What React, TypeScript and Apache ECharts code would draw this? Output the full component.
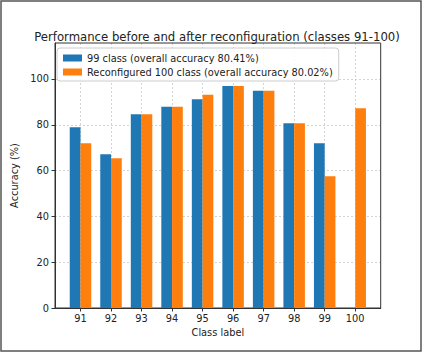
import React, { useEffect, useRef } from "react";
import * as echarts from "echarts";

const categories = ["91", "92", "93", "94", "95", "96", "97", "98", "99", "100"];
const before99 = [78.9, 67.1, 84.6, 87.9, 91.1, 96.9, 94.8, 80.7, 71.9, null];
const after100 = [71.9, 65.4, 84.6, 87.9, 93.1, 96.9, 94.8, 80.7, 57.5, 87.2];
const yTicks = [0, 20, 40, 60, 80, 100];
const seriesNames = [
  "99 class (overall accuracy 80.41%)",
  "Reconfigured 100 class (overall accuracy 80.02%)",
];

const FONT = "DejaVu Sans";

export default function App() {
  const ref = useRef<HTMLDivElement>(null);
  useEffect(() => {
    if (!ref.current) return;
    const chart = echarts.init(ref.current, null, { renderer: "svg" });
    const idx = categories.map((_, i) => i);
    const toPairs = (arr: (number | null)[]) =>
      arr.map((v, i) => (v === null ? null : [i, v])).filter((d) => d !== null);
    chart.setOption({
      animation: false,
      backgroundColor: "#ffffff",
      textStyle: { fontFamily: FONT },
      title: {
        text: "Performance before and after reconfiguration (classes 91-100)",
        left: 212,
        textAlign: "center",
        top: 26,
        textStyle: { fontFamily: FONT, fontSize: 11.7, fontWeight: "normal", color: "#222" },
      },
      legend: {
        orient: "vertical",
        left: 57,
        top: 48,
        padding: [5, 6, 4, 6],
        itemWidth: 19,
        itemHeight: 7,
        itemGap: 4,
        borderColor: "#cccccc",
        borderWidth: 1,
        borderRadius: 3,
        backgroundColor: "rgba(255,255,255,0.85)",
        icon: "rect",
        textStyle: { fontFamily: FONT, fontSize: 9.8, color: "#222" },
        data: seriesNames,
      },
      grid: {
        left: 55,
        top: 43,
        width: 325.7,
        height: 265,
        show: true,
        borderColor: "#333",
        borderWidth: 1,
        backgroundColor: "transparent",
        z: 1,
      },
      xAxis: {
        type: "value",
        min: -0.835,
        max: 9.835,
        name: "Class label",
        nameLocation: "middle",
        nameGap: 19,
        nameTextStyle: { fontFamily: FONT, fontSize: 9.8, color: "#222" },
        axisLine: { show: true, onZero: false, lineStyle: { color: "#333" } },
        axisTick: { show: true, length: 3.5, customValues: idx, lineStyle: { color: "#333" } },
        axisLabel: {
          customValues: idx,
          formatter: (v: number) => categories[Math.round(v)],
          fontFamily: FONT,
          fontSize: 9.8,
          color: "#222",
          margin: 5,
        },
        splitLine: { show: true, lineStyle: { color: "#c8c8c8", type: [2, 2], width: 0.8 } },
      },
      yAxis: {
        type: "value",
        min: 0,
        max: 115.7,
        interval: 20,
        name: "Accuracy (%)",
        nameLocation: "middle",
        nameGap: 23,
        nameTextStyle: { fontFamily: FONT, fontSize: 9.8, color: "#222" },
        axisLine: { show: true, onZero: false, lineStyle: { color: "#333" } },
        axisTick: { show: true, length: 3.5, customValues: yTicks, lineStyle: { color: "#333" } },
        axisLabel: {
          customValues: yTicks,
          fontFamily: FONT,
          fontSize: 9.8,
          color: "#222",
          margin: 6,
        },
        splitLine: { show: true, lineStyle: { color: "#c8c8c8", type: [2, 2], width: 0.8 } },
      },
      series: [
        {
          name: seriesNames[0],
          type: "bar",
          barWidth: 10.75,
          barGap: "0%",
          itemStyle: { color: "#1f77b4" },
          data: toPairs(before99),
          z: 2,
        },
        {
          name: seriesNames[1],
          type: "bar",
          barWidth: 10.75,
          barGap: "0%",
          itemStyle: { color: "#ff7f0e" },
          data: toPairs(after100),
          z: 2,
        },
      ],
      graphic: [
        {
          type: "rect",
          shape: { x: 1, y: 1, width: 420, height: 350 },
          style: { fill: "none", stroke: "#555", lineWidth: 1.5 },
          silent: true,
        },
      ],
    });
    return () => chart.dispose();
  }, []);
  return (
    <div
      ref={ref}
      style={{ position: "fixed", left: 0, top: 0, width: 423, height: 353 }}
    />
  );
}
